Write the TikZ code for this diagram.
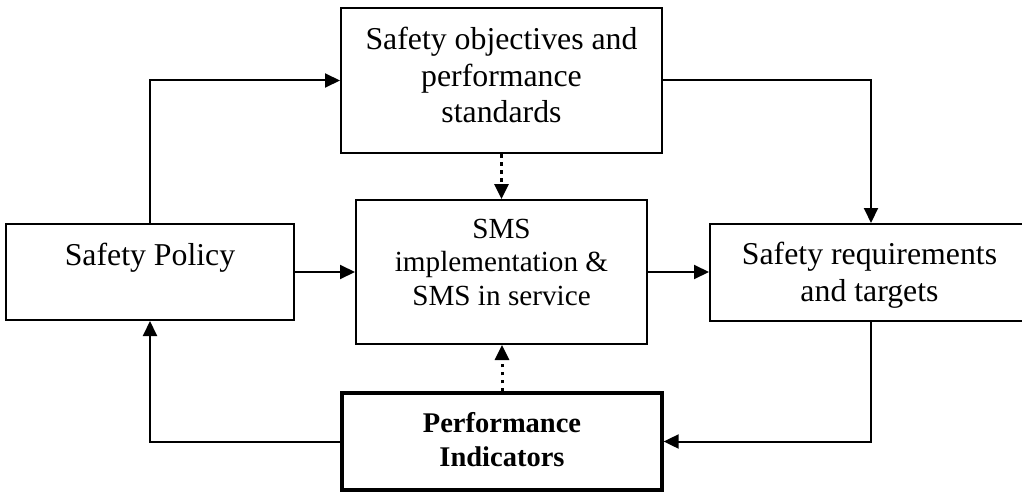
\documentclass[tikz,border=0pt]{standalone}
\usepackage{fontspec}
\setmainfont{Liberation Serif}
\usetikzlibrary{arrows.meta}
\begin{document}
\begin{tikzpicture}[x=1pt,y=-1pt,
  box/.style={draw, line width=2pt, inner sep=0pt},
  thickbox/.style={draw, line width=3.3pt, inner sep=0pt},
  bigtxt/.style={inner sep=0pt, align=center, font=\fontsize{31.8}{36.8}\selectfont},
  midtxt/.style={inner sep=0pt, align=center, font=\fontsize{29.2}{33.5}\selectfont},
  boldtxt/.style={inner sep=0pt, align=center, font=\fontsize{28.5}{34}\selectfont\bfseries},
  conn/.style={line width=2pt, -{Triangle[length=15pt,width=14pt]}},
  dotconn/.style={line width=3pt, dash pattern=on 3.5pt off 4.5pt, -{Triangle[length=15pt,width=14pt]}}
]
\useasboundingbox (0,0) rectangle (1022,492);

% boxes
\node[box, minimum width=321pt, minimum height=145pt] (top) at (501.5,80.5) {};
\node[box, minimum width=288pt, minimum height=96pt] (policy) at (150,272) {};
\node[box, minimum width=291pt, minimum height=144pt] (cent) at (501.5,272) {};
\node[box, minimum width=322pt, minimum height=97pt] (req) at (871,272.5) {};
\node[thickbox, minimum width=320pt, minimum height=97pt] (perf) at (502,441.5) {};

% texts
\node[bigtxt] (toptxt) at (501.5,75) {Safety objectives and\\performance\\standards};
\node[bigtxt, anchor=base] (policytxt) at (150,265) {Safety Policy};
\node[midtxt] (centtxt) at (501.5,262) {SMS\\implementation \&\\SMS in service};
\node[bigtxt] (reqtxt) at (869.5,275) {Safety requirements\\and targets};
\node[boldtxt] (perftxt) at (502,440) {Performance\\Indicators};

% connectors
\draw[conn] (policy.north) |- (top.west);
\draw[conn] (top.east) -| (req.north);
\draw[dotconn] (top.south) -- (cent.north);
\draw[conn] (policy.east) -- (cent.west);
\draw[conn] (cent.east) -- (cent.east -| req.west);
\draw[conn] (req.south) |- (perf.east);
\draw[dotconn] (perf.north) -- (perf.north |- cent.south);
\draw[conn] (perf.west) -| (policy.south);
\end{tikzpicture}
\end{document}
